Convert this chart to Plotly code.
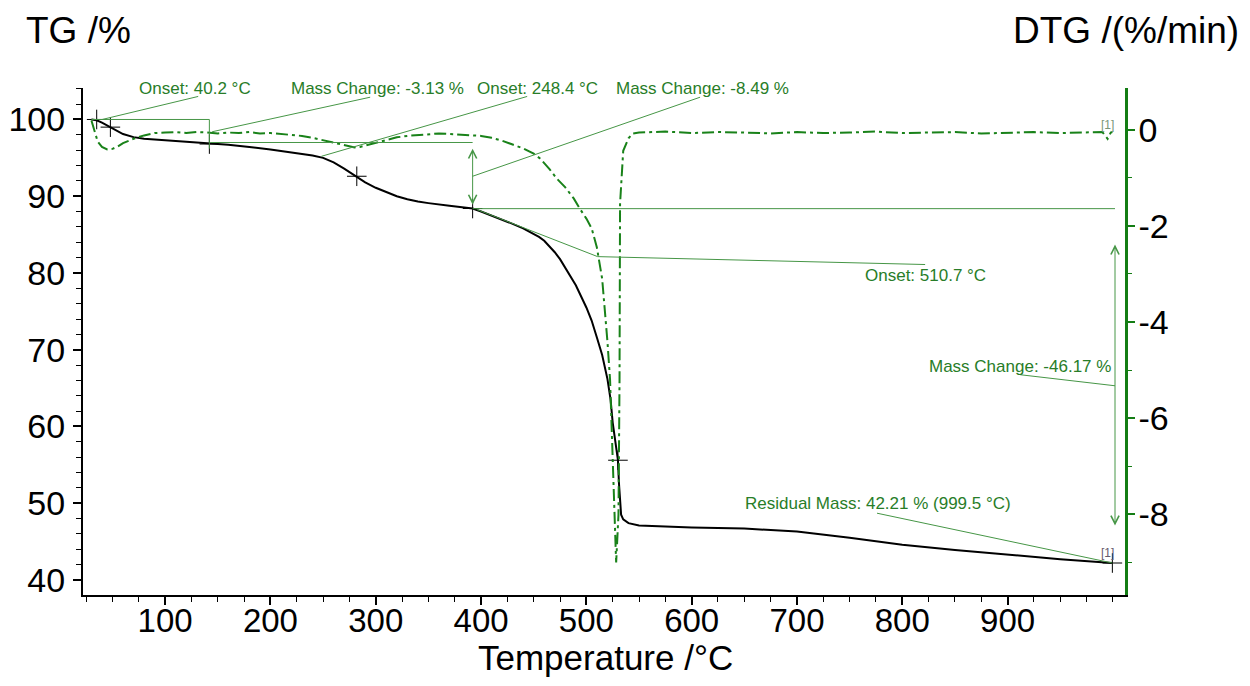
import plotly.graph_objects as go

# ---------------- data ----------------
tg_temp = [30, 35, 40, 45, 50, 55, 60, 70, 80, 90, 100, 120, 140, 160, 180, 200, 220, 240,
           250, 260, 270, 280, 290, 300, 310, 320, 330, 340, 350, 360, 370, 380, 392,
           400, 410, 420, 430, 440, 450, 455, 460, 465, 470, 475, 480, 490, 500, 505,
           510, 515, 520, 523, 525, 528, 530, 531, 532, 533, 535, 540, 550, 575, 600,
           650, 700, 750, 800, 850, 900, 950, 999.5]
tg_mass = [100.0, 99.9, 99.6, 99.2, 98.8, 98.4, 98.1, 97.7, 97.5, 97.4, 97.3, 97.1, 96.9,
           96.7, 96.4, 96.1, 95.7, 95.3, 95.0, 94.4, 93.6, 92.7, 91.8, 91.1, 90.5, 90.0,
           89.6, 89.3, 89.1, 88.9, 88.75, 88.6, 88.4, 88.0, 87.5, 86.9, 86.4, 85.8, 85.1,
           84.7, 84.2, 83.5, 82.7, 81.8, 80.7, 78.4, 75.5, 73.8, 71.6, 69.3, 66.2, 63.5,
           60.5, 57.6, 55.6, 52.5, 49.6, 48.5, 47.9, 47.4, 47.1, 46.95, 46.85, 46.7,
           46.3, 45.5, 44.6, 43.9, 43.3, 42.7, 42.21]

dtg_temp = [30, 33, 36, 40, 45, 50, 55, 60, 70, 80, 90, 100, 110, 120, 130, 140, 150, 160,
            170, 180, 190, 200, 210, 220, 230, 240, 250, 260, 270, 280, 285, 290, 300,
            310, 320, 330, 340, 350, 360, 370, 380, 390, 400, 410, 420, 430, 440, 450,
            456, 465, 472, 480, 488, 494, 500, 505, 510, 515, 518, 520, 522.5, 525.4,
            528.3, 530.5, 531.5, 532, 535, 540, 544, 550, 575, 600, 625, 650, 675, 700,
            725, 750, 775, 800, 825, 850, 875, 900, 925, 950, 975, 990, 995, 998, 999.5]
dtg_rate = [0.19, -0.05, -0.25, -0.36, -0.41, -0.40, -0.35, -0.28, -0.19, -0.12, -0.07,
            -0.06, -0.05, -0.07, -0.05, -0.06, -0.08, -0.06, -0.07, -0.05, -0.08, -0.07,
            -0.09, -0.10, -0.13, -0.17, -0.22, -0.28, -0.33, -0.37, -0.36, -0.33, -0.27,
            -0.21, -0.16, -0.13, -0.11, -0.09, -0.08, -0.09, -0.10, -0.11, -0.13, -0.17,
            -0.23, -0.31, -0.39, -0.50, -0.60, -0.82, -1.02, -1.20, -1.43, -1.65, -1.85,
            -2.05, -2.45, -3.10, -3.80, -4.40, -5.20, -7.30, -9.00, -8.00, -5.20, -1.54,
            -0.44, -0.18, -0.08, -0.06, -0.04, -0.07, -0.05, -0.06, -0.08, -0.05, -0.07,
            -0.06, -0.04, -0.07, -0.06, -0.05, -0.08, -0.06, -0.05, -0.07, -0.06, -0.05,
            -0.19, -0.06, -0.05]

cross_temp = [35, 48, 142, 282, 392, 530, 999.5]
cross_mass = [100.0, 99.0, 96.8, 92.6, 88.4, 55.6, 42.21]

x_ticks = [100, 200, 300, 400, 500, 600, 700, 800, 900]
tg_ticks = [40, 50, 60, 70, 80, 90, 100]
dtg_ticks = [0, -2, -4, -6, -8]
dtg_labels = ["0", "-2", "-4", "-6", "-8"]

# ---------------- styling ----------------
GREEN_CURVE = "rgb(25,130,25)"
GREEN_AXIS = "rgb(20,125,20)"
GREEN_TEXT = "rgb(40,125,40)"
GREEN_LINE = "rgb(70,150,70)"
FONT = "Arial, Liberation Sans, sans-serif"

X_RANGE = [22, 1011.5]
Y_RANGE = [38.04, 104.1]

fig = go.Figure()
fig.add_trace(go.Scatter(x=dtg_temp, y=dtg_rate, yaxis="y2", mode="lines",
                         line=dict(color=GREEN_CURVE, width=2, dash="12px,4px,3px,4px"),
                         showlegend=False, hoverinfo="skip"))
fig.add_trace(go.Scatter(x=tg_temp, y=tg_mass, mode="lines",
                         line=dict(color="black", width=2), showlegend=False))
fig.add_trace(go.Scatter(x=cross_temp, y=cross_mass, mode="markers",
                         marker=dict(symbol="cross-thin", size=14,
                                     line=dict(width=1, color="black")),
                         showlegend=False))

# thin annotation lines (data coordinates on TG axis)
segments = [
    (30, 100.0, 142, 100.0),      # onset 1 baseline
    (142, 100.0, 142, 96.2),      # step marker
    (131.4, 103.0, 40.2, 100.0),  # leader onset 40.2
    (294.7, 102.9, 144.6, 98.4),  # leader mass change -3.13
    (443.8, 103.0, 248.4, 95.2),  # leader onset 248.4
    (143, 97.0, 392, 97.0),       # level before step 2
    (608, 102.9, 392, 92.6),      # leader mass change -8.49
    (392, 88.38, 1002, 88.38),    # level after step 2
    (396, 88.26, 510.7, 82.13),   # tangent onset 510.7
    (510.7, 82.13, 821.7, 81.1),  # leader onset 510.7
    (912, 66.74, 1002, 65.3),     # leader mass change -46.17
    (776, 48.7, 999.5, 42.21),    # leader residual mass
]
for x0, y0, x1, y1 in segments:
    fig.add_shape(type="line", xref="x", yref="y", x0=x0, y0=y0, x1=x1, y1=y1,
                  line=dict(color=GREEN_LINE, width=1))

# double arrows
for xa, y_top, y_bot in [(392, 96.2, 88.7), (1002, 83.7, 46.9)]:
    fig.add_annotation(x=xa, y=y_top, ax=xa, ay=y_bot, xref="x", yref="y",
                       axref="x", ayref="y", text="", showarrow=True,
                       arrowhead=5, arrowsize=1.6, arrowwidth=1,
                       arrowside="end+start", arrowcolor=GREEN_LINE)

# labels along the top edge (paper y so they are not hidden outside the range)
top_labels = [
    ("Onset: 40.2 °C", 128.6),
    ("Mass Change: -3.13 %", 301.7),
    ("Onset: 248.4 °C", 453.3),
    ("Mass Change: -8.49 %", 610),
]
for txt, xx in top_labels:
    fig.add_annotation(x=xx, y=1.0, xref="x", yref="paper", text=txt, showarrow=False,
                       xanchor="center", yanchor="middle",
                       font=dict(family=FONT, size=17, color=GREEN_TEXT))

labels = [
    ("Onset: 510.7 °C", 821.7, 79.65, "center"),
    ("Mass Change: -46.17 %", 1000.5, 67.8, "right"),
    ("Residual Mass: 42.21 % (999.5 °C)", 777, 49.9, "center"),
]
for txt, xx, yy, anc in labels:
    fig.add_annotation(x=xx, y=yy, xref="x", yref="y", text=txt, showarrow=False,
                       xanchor=anc, yanchor="middle",
                       font=dict(family=FONT, size=17, color=GREEN_TEXT))

fig.add_annotation(x=994.5, y=0.1, xref="x", yref="y2", text="[1]", showarrow=False,
                   font=dict(family=FONT, size=12, color="rgb(120,150,120)"))
fig.add_annotation(x=994.5, y=43.5, xref="x", yref="y", text="[1]", showarrow=False,
                   font=dict(family=FONT, size=12, color="rgb(100,90,110)"))

# axis titles as text (anchored so their boxes stay inside the figure)
fig.add_annotation(x=-0.0557, y=1.156, xref="paper", yref="paper", text="TG /%",
                   showarrow=False, xanchor="left", yanchor="top", borderpad=0,
                   font=dict(family=FONT, size=37, color="black"))
fig.add_annotation(x=1.110, y=1.156, xref="paper", yref="paper", text="DTG /(%/min)",
                   showarrow=False, xanchor="right", yanchor="top", borderpad=0,
                   font=dict(family=FONT, size=37, color="black"))
fig.add_annotation(x=0.501, y=-0.164, xref="paper", yref="paper", text="Temperature /°C",
                   showarrow=False, xanchor="center", yanchor="bottom", borderpad=0,
                   font=dict(family=FONT, size=35, color="black"))

# page body has an 8 px margin, so the figure is sized to fit inside the window
fig.update_layout(
    width=1234, height=670,
    margin=dict(l=75, r=117, t=80, b=83, autoexpand=False),
    paper_bgcolor="white", plot_bgcolor="white",
    font=dict(family=FONT, color="black"),
    xaxis=dict(range=X_RANGE, tickvals=x_ticks, showgrid=False, zeroline=False,
               automargin=False,
               showline=True, linecolor="black", linewidth=2,
               ticks="outside", ticklen=8, tickwidth=1.5, tickcolor="black",
               tickfont=dict(size=33, family=FONT, color="black"),
               ticklabelstandoff=-13,
               minor=dict(dtick=25, tick0=0, ticks="outside", ticklen=5,
                          tickcolor="black", tickwidth=1, showgrid=False)),
    yaxis=dict(range=Y_RANGE, tickvals=tg_ticks, showgrid=False, zeroline=False,
               automargin=False,
               showline=True, linecolor="black", linewidth=2,
               ticks="outside", ticklen=8, tickwidth=1.5, tickcolor="black",
               tickfont=dict(size=34, family=FONT, color="black"),
               ticklabelstandoff=1,
               minor=dict(dtick=2, tick0=0, ticks="outside", ticklen=5,
                          tickcolor="black", tickwidth=1, showgrid=False)),
    yaxis2=dict(range=[-9.675, 0.866], overlaying="y", side="right",
                automargin=False,
                tickvals=dtg_ticks, ticktext=dtg_labels, showgrid=False, zeroline=False,
                showline=True, linecolor=GREEN_AXIS, linewidth=2.5,
                ticks="outside", ticklen=7, tickwidth=1.5, tickcolor=GREEN_AXIS,
                tickfont=dict(size=34, family=FONT, color="black"),
                ticklabelstandoff=-3,
                minor=dict(dtick=1, tick0=0, ticks="outside", ticklen=4,
                           tickcolor=GREEN_AXIS, tickwidth=1, showgrid=False)),
)

fig.write_html("out.html")
